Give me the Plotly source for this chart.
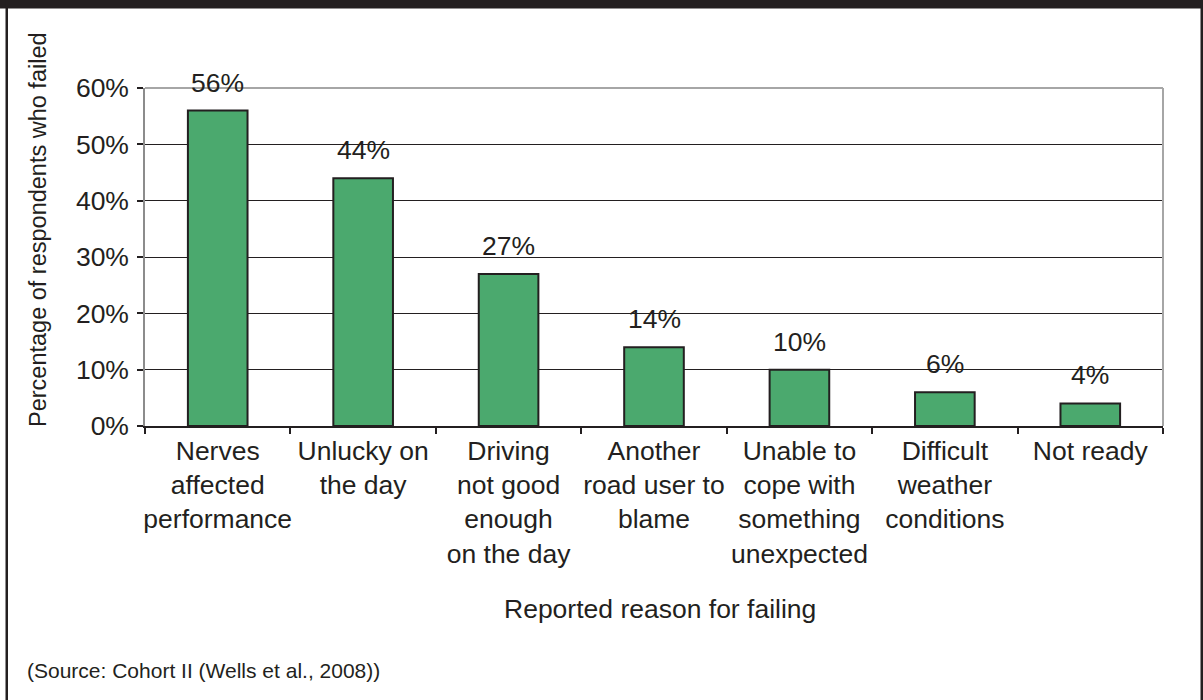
import plotly.graph_objects as go

categories = [
    "Nerves<br>affected<br>performance",
    "Unlucky on<br>the day",
    "Driving<br>not good<br>enough<br>on the day",
    "Another<br>road user to<br>blame",
    "Unable to<br>cope with<br>something<br>unexpected",
    "Difficult<br>weather<br>conditions",
    "Not ready",
]
values = [56, 44, 27, 14, 10, 6, 4]
y_ticks = [0, 10, 20, 30, 40, 50, 60]
y_tick_labels = ["0%", "10%", "20%", "30%", "40%", "50%", "60%"]

INK = "#231F20"
FONT = "Liberation Sans, Arial, Helvetica, sans-serif"
FS = 26.5

W, H = 1203, 700
L, R, T, B = 145, 40, 88, 274
PW = W - L - R
PH = H - T - B


def px_x(px):
    return (px - L) / PW


def px_y(py):
    return (H - B - py) / PH


fig = go.Figure()
fig.add_trace(go.Bar(
    x=categories,
    y=values,
    marker=dict(color="#4BA96E", line=dict(color=INK, width=2)),
    hoverinfo="x+y",
))

annotations = []
for c, v in zip(categories, values):
    annotations.append(dict(
        x=c, y=v, xref="x", yref="y", text=f"{v}%", showarrow=False,
        yanchor="middle", yshift=28, font=dict(size=FS, color=INK, family=FONT),
    ))

annotations.append(dict(
    x=px_x(38), y=px_y(230), xref="paper", yref="paper",
    text="Percentage of respondents who failed", textangle=-90,
    showarrow=False, xanchor="center", yanchor="middle",
    font=dict(size=23.5, color=INK, family=FONT),
))
annotations.append(dict(
    x=px_x(660), y=px_y(609), xref="paper", yref="paper",
    text="Reported reason for failing", showarrow=False,
    xanchor="center", yanchor="middle",
    font=dict(size=FS, color=INK, family=FONT),
))
annotations.append(dict(
    x=px_x(25), y=px_y(670), xref="paper", yref="paper",
    text="(Source: Cohort II (Wells et al., 2008))", showarrow=False,
    xanchor="left", yanchor="middle",
    font=dict(size=21, color=INK, family=FONT),
))

shapes = [
    # top dark bar
    dict(type="rect", xref="paper", yref="paper", x0=px_x(0), x1=px_x(W),
         y0=px_y(0), y1=px_y(8.5), fillcolor=INK, line=dict(width=0), layer="above"),
    # left border
    dict(type="rect", xref="paper", yref="paper", x0=px_x(5.5), x1=px_x(8),
         y0=px_y(0), y1=px_y(H), fillcolor=INK, line=dict(width=0), layer="above"),
    # right border
    dict(type="rect", xref="paper", yref="paper", x0=px_x(1200.5), x1=px_x(W),
         y0=px_y(0), y1=px_y(H), fillcolor=INK, line=dict(width=0), layer="above"),
    # plot frame top and right (gray)
    dict(type="line", xref="paper", yref="paper", x0=0, x1=1, y0=1, y1=1,
         line=dict(color="#A6A6A6", width=2), layer="above"),
    dict(type="line", xref="paper", yref="paper", x0=1, x1=1, y0=0, y1=1,
         line=dict(color="#A6A6A6", width=2), layer="above"),
]

fig.update_layout(
    width=W, height=H,
    margin=dict(l=L, r=R, t=T, b=B, autoexpand=False),
    paper_bgcolor="white", plot_bgcolor="white",
    bargap=0.59,
    showlegend=False,
    font=dict(family=FONT, size=FS, color=INK),
    annotations=annotations,
    shapes=shapes,
)
fig.update_xaxes(
    type="category",
    tickson="boundaries",
    ticks="outside", ticklen=6, tickcolor=INK, tickwidth=1.5,
    showline=True, linecolor=INK, linewidth=1.5,
    showgrid=False,
    tickfont=dict(size=FS, color=INK, family=FONT),
    tickangle=0,
)
fig.update_yaxes(
    range=[0, 60],
    tickvals=y_ticks, ticktext=y_tick_labels,
    ticks="outside", ticklen=6, tickcolor=INK, tickwidth=1.5,
    showline=True, linecolor="#8C8C8C", linewidth=1.5,
    showgrid=True, gridcolor=INK, gridwidth=1,
    zeroline=False,
    tickfont=dict(size=FS, color=INK, family=FONT),
    ticklabelstandoff=3,
)

fig.write_html(
    "out.html",
    config={"displayModeBar": False},
    post_script="document.body.style.margin='0px';document.body.style.overflow='hidden';",
)
